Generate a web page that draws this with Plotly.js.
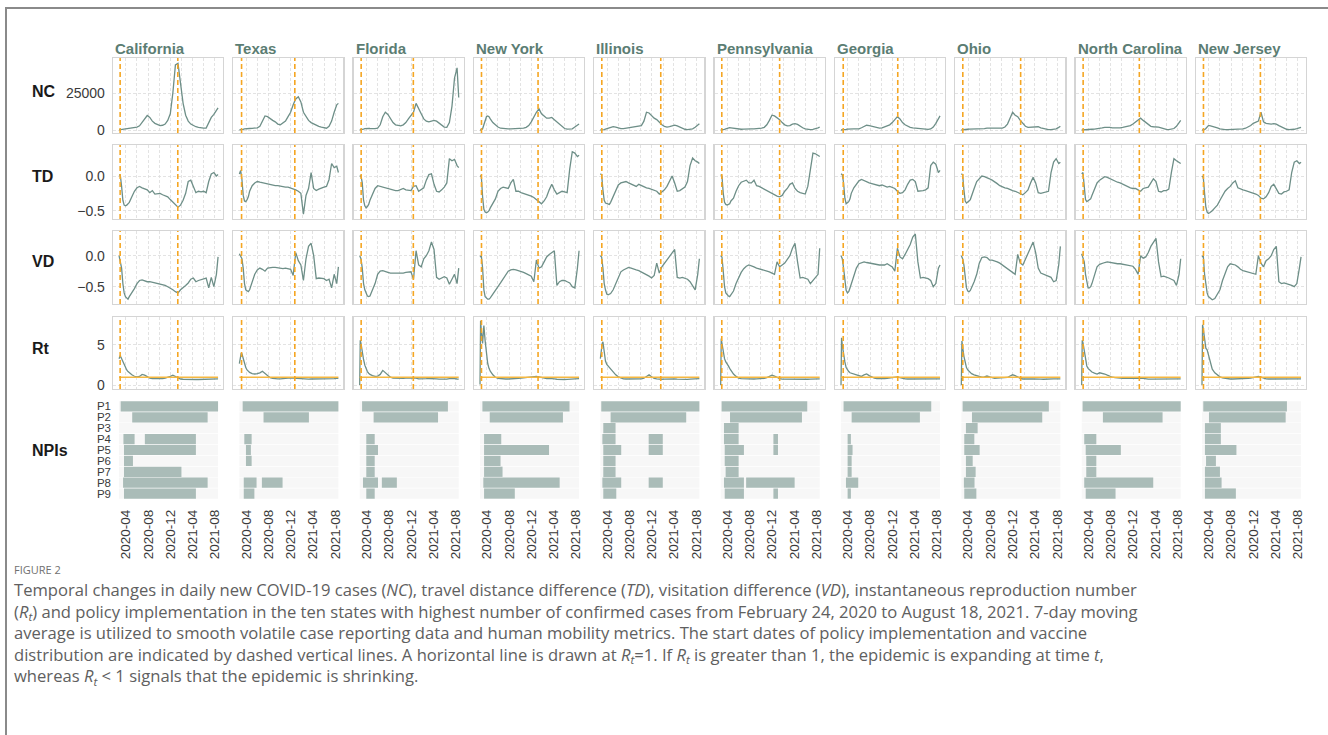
<!DOCTYPE html>
<html>
<head>
<meta charset="utf-8">
<script src="https://cdn.plot.ly/plotly-3.0.1.min.js"></script>
<style>
html,body{margin:0;padding:0;background:#fff}
#chart{width:1328px;height:735px}
</style>
</head>
<body>
<div id="chart"></div>
<script>
// ---------------- DATA ----------------
const states = ["California","Texas","Florida","New York","Illinois","Pennsylvania","Georgia","Ohio","North Carolina","New Jersey"];
const stateKeys = ["CA","TX","FL","NY","IL","PA","GA","OH","NCa","NJ"];
const studyStart = "2020-02-24";
const studyEnd = "2021-08-18";
const rtThreshold = 1;
const policies = ["P1","P2","P3","P4","P5","P6","P7","P8","P9"];
const xTickDates = ["2020-04-01","2020-08-01","2020-12-01","2021-04-01","2021-08-01"];
const gridMonths = ["2020-04-01","2020-06-01","2020-08-01","2020-10-01","2020-12-01","2021-02-01","2021-04-01","2021-06-01","2021-08-01"];

const dates = ["2020-02-24","2020-03-02","2020-03-09","2020-03-16","2020-03-23","2020-03-30","2020-04-06","2020-04-13","2020-04-20",
"2020-05-04","2020-05-18","2020-06-01","2020-06-15","2020-06-29","2020-07-13","2020-07-27","2020-08-10","2020-08-24","2020-09-07",
"2020-09-21","2020-10-05","2020-10-19","2020-11-02","2020-11-16","2020-11-30","2020-12-14","2020-12-28","2021-01-11","2021-01-25",
"2021-02-08","2021-02-22","2021-03-08","2021-03-22","2021-04-05","2021-04-19","2021-05-03","2021-05-17","2021-05-31","2021-06-14",
"2021-06-28","2021-07-12","2021-07-26","2021-08-09","2021-08-18"];
const rtDates = ["2020-02-24","2020-02-27","2020-03-02","2020-03-05","2020-03-09","2020-03-13","2020-03-16","2020-03-23","2020-03-30","2020-04-06","2020-04-13","2020-04-20",
"2020-05-04","2020-05-18","2020-06-01","2020-06-15","2020-06-29","2020-07-13","2020-07-27","2020-08-10","2020-08-24","2020-09-07",
"2020-09-21","2020-10-05","2020-10-19","2020-11-02","2020-11-16","2020-11-30","2020-12-14","2020-12-28","2021-01-11","2021-01-25",
"2021-02-08","2021-02-22","2021-03-08","2021-03-22","2021-04-05","2021-04-19","2021-05-03","2021-05-17","2021-05-31","2021-06-14",
"2021-06-28","2021-07-12","2021-07-26","2021-08-09","2021-08-18"];

// policy start / vaccine start (dashed lines)
const policyStart  = ["2020-03-01","2020-03-07","2020-03-03","2020-03-03","2020-03-03","2020-03-01","2020-03-07","2020-03-03","2020-03-03","2020-03-03"];
const vaccineStart = ["2021-01-10","2020-12-23","2020-12-13","2021-01-06","2021-01-19","2021-01-11","2020-12-30","2021-01-13","2021-01-04","2021-01-08"];

// NC: daily new cases (7-day avg)
const ncCA = [100,200,500,800,1000,1100,1200,1200,1200, 1300,1500,2000,2800,5000,8000,9800,8500,6000,4500, 3500,3000,3200,4000,6500,11000,25000,44000,45000,30000, 18000,10000,6000,4000,2800,2200,1800,1400,1200,1300, 4500,8500,10500,13000,15000];
const ncTX = [100,100,200,400,700,900,1000,1000,1000, 1100,1200,1500,2500,6000,9500,9000,7500,6500,5500, 4000,3500,4500,6000,9000,12000,17000,21000,22500,19000, 12000,9000,6500,5000,4000,3000,2500,2000,1500,1200, 2500,6000,12000,17000,18000];
const ncFL = [100,150,300,600,900,1100,1200,1100,1000, 800,900,1200,3500,9000,12000,10500,7500,5000,3500, 3000,2800,3500,5000,7500,9500,12000,18000,14000,11000, 7500,6000,5500,5800,6500,6000,4500,3000,2000,1800, 5000,16000,35000,42000,22000];
const ncNY = [0,100,800,3500,7000,9000,9500,9000,7500, 5000,3500,2000,1200,900,800,800,700,700,800, 900,1000,1200,1800,3000,5500,9000,12000,14300,11000, 9500,8000,8000,8500,7000,5500,3500,2000,1000,600, 500,800,2000,3500,4000];
const ncIL = [0,0,100,300,600,900,1300,1700,2000, 2300,2000,1300,900,900,1200,1500,1800,2000,2000, 2200,3000,6000,12000,11500,9500,8000,7000,5000,3500, 2500,2000,2300,3000,3300,2800,2000,1200,500,300, 400,800,1800,3500,4200];
const ncPA = [0,0,100,400,800,1200,1500,1600,1500, 1200,900,600,500,600,800,800,700,700,800, 900,1200,1800,3500,6500,10000,9500,8500,7000,5000, 3500,2800,3000,4000,4300,3800,2500,1500,800,400, 300,400,700,1500,1900];
const ncGA = [0,0,50,150,400,600,700,700,700, 700,700,800,1500,2500,3200,3000,2500,2000,1500, 1300,1500,2000,2500,3500,5000,7000,9000,7500,5000, 3500,2500,1800,1500,1300,1200,1000,600,400,400, 700,2000,4500,7500,9500];
const ncOH = [0,0,50,200,400,500,600,600,600, 600,500,400,500,900,1200,1200,1000,1000,1000, 1000,1300,2000,4000,8000,12000,10000,9000,6500,4500, 2500,1800,1800,2000,2300,2200,1500,1000,500,300, 300,400,800,1800,2500];
const ncNCa = [0,0,50,100,200,300,400,500,500, 600,700,1000,1400,1800,2000,1800,1500,1400,1400, 1500,1800,2200,2500,3000,4000,5500,6500,8000,6500, 5000,3500,2500,2200,2200,2000,1500,900,400,300, 500,1000,2500,5500,6500];
const ncNJ = [0,0,200,1000,2300,3000,3000,2800,2500, 2000,1500,800,400,300,300,300,300,300,400, 500,700,1200,2000,3000,4500,5500,6000,12000,5500, 4500,4000,4000,4300,4000,3000,2000,1000,500,300, 300,500,900,1500,1800];

// TD: travel distance difference
const tdCA = [0.02,0.01,-0.15,-0.35,-0.42,-0.43,-0.42,-0.40,-0.38, -0.30,-0.22,-0.17,-0.15,-0.17,-0.18,-0.20,-0.24,-0.21,-0.26, -0.25,-0.25,-0.27,-0.28,-0.30,-0.34,-0.38,-0.42,-0.45,-0.42, -0.35,-0.25,-0.08,-0.06,-0.15,-0.24,-0.22,-0.23,-0.22,-0.24, -0.08,0.03,0.05,0.0,0.02];
const tdTX = [0.03,0.08,-0.05,-0.28,-0.36,-0.37,-0.34,-0.30,-0.22, -0.14,-0.10,-0.08,-0.09,-0.10,-0.11,-0.12,-0.13,-0.13,-0.14, -0.14,-0.15,-0.16,-0.16,-0.16,-0.17,-0.19,-0.20,-0.22,-0.25, -0.55,-0.28,-0.18,0.05,-0.18,-0.21,-0.19,-0.17,-0.16,-0.15, -0.05,0.18,0.12,0.14,0.05];
const tdFL = [0.0,0.0,-0.1,-0.35,-0.43,-0.46,-0.44,-0.41,-0.35, -0.25,-0.18,-0.14,-0.15,-0.17,-0.18,-0.19,-0.2,-0.2,-0.21, -0.21,-0.2,-0.18,-0.2,-0.21,-0.21,-0.15,-0.14,-0.22,-0.2, -0.17,-0.06,0.02,0.03,-0.12,-0.22,-0.23,-0.2,-0.16,-0.1, 0.25,0.22,0.24,0.15,0.12];
const tdNY = [0.0,0.0,-0.3,-0.48,-0.52,-0.53,-0.52,-0.5,-0.46, -0.4,-0.33,-0.22,-0.18,-0.16,-0.17,-0.18,-0.1,-0.05,-0.22, -0.22,-0.24,-0.25,-0.26,-0.27,-0.29,-0.31,-0.34,-0.37,-0.4, -0.36,-0.3,-0.2,-0.12,-0.2,-0.26,-0.24,-0.22,-0.23,-0.24, 0.1,0.35,0.33,0.28,0.3];
const tdIL = [0.03,0.02,-0.2,-0.35,-0.39,-0.4,-0.41,-0.41,-0.38, -0.3,-0.2,-0.13,-0.1,-0.09,-0.08,-0.1,-0.12,-0.13,-0.15, -0.12,-0.14,-0.16,-0.17,-0.18,-0.19,-0.2,-0.22,-0.26,-0.23, -0.2,-0.15,-0.08,0.0,-0.1,-0.22,-0.21,-0.18,-0.16,-0.08, 0.15,0.26,0.22,0.2,0.18];
const tdPA = [0.02,0.0,-0.25,-0.38,-0.41,-0.42,-0.41,-0.4,-0.36, -0.32,-0.22,-0.14,-0.09,-0.07,-0.06,-0.1,-0.1,-0.06,-0.14, -0.15,-0.17,-0.2,-0.22,-0.24,-0.26,-0.27,-0.29,-0.3,-0.28, -0.22,-0.18,-0.12,-0.1,-0.18,-0.22,-0.24,-0.25,-0.26,-0.15, 0.1,0.33,0.32,0.3,0.28];
const tdGA = [0.03,0.02,-0.1,-0.32,-0.4,-0.39,-0.37,-0.33,-0.25, -0.17,-0.12,-0.07,-0.05,-0.07,-0.08,-0.1,-0.11,-0.12,-0.14, -0.14,-0.13,-0.14,-0.16,-0.15,-0.16,-0.18,-0.22,-0.25,-0.24, -0.2,-0.12,-0.06,-0.05,-0.08,-0.22,-0.22,-0.21,-0.2,-0.17, 0.15,0.2,0.17,0.05,0.08];
const tdOH = [0.03,0.02,-0.2,-0.36,-0.39,-0.38,-0.36,-0.34,-0.28, -0.18,-0.08,-0.04,0.0,-0.01,-0.02,-0.04,-0.06,-0.08,-0.11, -0.14,-0.16,-0.17,-0.18,-0.2,-0.21,-0.22,-0.24,-0.25,-0.27, -0.24,-0.2,-0.1,-0.02,-0.1,-0.24,-0.25,-0.24,-0.22,-0.22, 0.05,0.2,0.25,0.18,0.2];
const tdNCa = [0.03,0.05,-0.15,-0.34,-0.37,-0.36,-0.35,-0.33,-0.28, -0.2,-0.1,-0.06,-0.03,-0.01,-0.02,-0.04,-0.05,-0.07,-0.09, -0.1,-0.12,-0.14,-0.16,-0.17,-0.18,-0.18,-0.2,-0.22,-0.18, -0.17,-0.16,-0.1,-0.04,-0.08,-0.22,-0.23,-0.21,-0.21,-0.19, 0.05,0.25,0.22,0.2,0.18];
const tdNJ = [0.0,-0.02,-0.25,-0.45,-0.52,-0.54,-0.53,-0.52,-0.5, -0.46,-0.42,-0.35,-0.28,-0.22,-0.18,-0.15,-0.1,-0.07,-0.17, -0.19,-0.2,-0.21,-0.22,-0.23,-0.24,-0.26,-0.28,-0.32,-0.33, -0.3,-0.24,-0.15,-0.12,-0.18,-0.25,-0.26,-0.23,-0.22,-0.2, 0.05,0.2,0.22,0.18,0.2];

// VD: visitation difference
const vdCA = [0.0,-0.1,-0.2,-0.45,-0.6,-0.66,-0.69,-0.7,-0.66, -0.6,-0.53,-0.45,-0.4,-0.39,-0.41,-0.42,-0.42,-0.43,-0.44, -0.44,-0.46,-0.47,-0.48,-0.5,-0.52,-0.55,-0.58,-0.6,-0.55, -0.52,-0.48,-0.44,-0.38,-0.36,-0.42,-0.4,-0.39,-0.37,-0.36, -0.52,-0.35,-0.5,-0.3,-0.02];
const vdTX = [0.03,0.0,-0.05,-0.2,-0.45,-0.55,-0.57,-0.58,-0.55, -0.42,-0.3,-0.23,-0.2,-0.22,-0.25,-0.2,-0.19,-0.19,-0.19, -0.2,-0.21,-0.21,-0.2,-0.21,-0.22,-0.32,0.05,-0.08,-0.15, -0.4,-0.05,0.15,0.2,0.0,-0.37,-0.36,-0.37,-0.37,-0.4, -0.38,-0.52,-0.3,-0.45,-0.18];
const vdFL = [0.0,-0.05,-0.2,-0.45,-0.55,-0.6,-0.65,-0.66,-0.65, -0.55,-0.45,-0.3,-0.25,-0.24,-0.26,-0.27,-0.28,-0.28,-0.29, -0.29,-0.28,-0.28,-0.27,-0.26,-0.26,-0.38,0.08,-0.15,-0.18, -0.05,0.0,0.08,0.22,0.1,-0.35,-0.38,-0.36,-0.34,-0.36, -0.46,-0.38,-0.3,-0.45,-0.2];
const vdNY = [-0.02,0.0,-0.2,-0.55,-0.66,-0.68,-0.7,-0.7,-0.68, -0.62,-0.55,-0.5,-0.44,-0.37,-0.3,-0.25,-0.23,-0.22,-0.23, -0.24,-0.26,-0.27,-0.29,-0.31,-0.33,-0.42,-0.07,-0.2,-0.18, -0.1,-0.02,0.02,0.05,0.08,-0.48,-0.42,-0.4,-0.4,-0.42, -0.44,-0.5,-0.52,-0.2,0.08];
const vdIL = [0.0,-0.02,-0.2,-0.45,-0.55,-0.62,-0.63,-0.62,-0.61, -0.55,-0.45,-0.33,-0.26,-0.23,-0.21,-0.19,-0.2,-0.22,-0.23, -0.24,-0.26,-0.28,-0.3,-0.33,-0.36,-0.32,-0.12,-0.28,-0.18, -0.12,-0.08,-0.02,0.06,0.1,-0.35,-0.36,-0.35,-0.36,-0.38, -0.42,-0.48,-0.55,-0.3,-0.05];
const vdPA = [0.0,-0.02,-0.25,-0.5,-0.6,-0.63,-0.65,-0.66,-0.63, -0.57,-0.45,-0.35,-0.27,-0.21,-0.17,-0.15,-0.16,-0.18,-0.2, -0.21,-0.22,-0.23,-0.25,-0.26,-0.28,-0.3,-0.1,-0.18,-0.15, -0.12,-0.06,0.0,0.12,0.2,-0.1,-0.36,-0.35,-0.37,-0.38, -0.45,-0.4,-0.35,-0.3,0.12];
const vdGA = [0.0,-0.05,-0.2,-0.45,-0.56,-0.6,-0.58,-0.52,-0.45, -0.3,-0.2,-0.13,-0.11,-0.1,-0.11,-0.12,-0.13,-0.14,-0.15, -0.15,-0.15,-0.15,-0.13,-0.15,-0.18,-0.25,0.12,-0.02,-0.05, 0.02,0.1,0.18,0.3,0.35,-0.1,-0.36,-0.35,-0.36,-0.37, -0.4,-0.5,-0.45,-0.2,-0.15];
const vdOH = [0.0,-0.05,-0.15,-0.35,-0.52,-0.57,-0.58,-0.56,-0.52, -0.42,-0.3,-0.12,-0.03,-0.02,-0.03,-0.07,-0.07,-0.08,-0.1, -0.12,-0.15,-0.17,-0.2,-0.23,-0.27,-0.3,0.02,-0.12,-0.15, -0.05,0.05,0.15,0.22,0.05,-0.2,-0.28,-0.3,-0.31,-0.33, -0.35,-0.42,-0.4,-0.15,0.15];
const vdNCa = [0.03,-0.02,-0.1,-0.3,-0.45,-0.52,-0.52,-0.5,-0.45, -0.32,-0.18,-0.14,-0.12,-0.11,-0.1,-0.11,-0.12,-0.12,-0.13, -0.13,-0.14,-0.14,-0.15,-0.16,-0.17,-0.22,-0.3,0.0,-0.04, -0.02,0.05,0.15,0.22,0.28,-0.1,-0.34,-0.33,-0.34,-0.36, -0.38,-0.4,-0.48,-0.3,-0.05];
const vdNJ = [-0.02,0.0,-0.3,-0.5,-0.6,-0.66,-0.68,-0.7,-0.71, -0.69,-0.63,-0.55,-0.4,-0.28,-0.18,-0.13,-0.14,-0.15,-0.18, -0.22,-0.24,-0.25,-0.27,-0.28,-0.29,-0.3,0.0,-0.12,-0.18, -0.08,-0.05,0.0,0.1,0.15,-0.42,-0.45,-0.44,-0.45,-0.47, -0.48,-0.5,-0.45,-0.2,-0.02];

// Rt: instantaneous reproduction number (on rtDates)
const rtCA = [3.3,3.6,3.7,3.5,3.3,3.05,2.9,2.4,2.1,1.9,1.7,1.55, 1.3,1.12,1.05,1.1,1.35,1.25,1.05,0.9,0.82,0.8, 0.78,0.78,0.82,0.9,0.98,1.1,1.25,1.1,0.9,0.78, 0.75,0.73,0.72,0.72,0.72,0.72,0.72,0.72,0.72,0.73, 0.75,0.76,0.78,0.8,0.8];
const rtTX = [2.7,3.2,3.7,4.0,3.9,3.5,3.2,2.6,2.2,1.9,1.7,1.6, 1.45,1.4,1.45,1.55,1.75,1.5,1.2,0.95,0.85,0.8, 0.8,0.8,0.85,0.9,0.92,0.92,0.9,0.88,0.8,0.75, 0.75,0.75,0.76,0.78,0.78,0.77,0.75,0.74,0.74,0.75, 0.78,0.8,0.82,0.85,0.85];
const rtFL = [0.05,5.6,5.2,4.6,4.0,3.5,3.2,2.5,2.0,1.7,1.5,1.35, 1.2,1.1,1.15,1.35,1.85,1.55,1.2,1.0,0.9,0.87, 0.85,0.85,0.87,0.9,0.92,0.95,0.97,0.9,0.8,0.78, 0.8,0.82,0.84,0.85,0.83,0.8,0.76,0.74,0.74,0.76, 0.82,0.85,0.82,0.78,0.76];
const rtNY = [0.1,8.0,6.8,5.5,5.2,6.5,7.4,5.5,3.8,2.7,2.1,1.75, 1.3,1.0,0.85,0.8,0.78,0.78,0.78,0.78,0.8,0.82, 0.85,0.88,0.92,0.95,0.98,1.0,1.05,1.1,1.05,0.95, 0.88,0.82,0.85,0.86,0.8,0.75,0.72,0.72,0.72,0.74, 0.76,0.78,0.8,0.82,0.82];
const rtIL = [3.3,4.0,4.8,5.2,5.4,4.8,4.1,3.0,2.6,2.4,2.2,2.0, 1.6,1.3,1.05,0.88,0.8,0.78,0.78,0.78,0.78,0.78, 0.78,0.8,0.88,1.05,1.3,1.05,0.85,0.8,0.75,0.75, 0.76,0.78,0.8,0.82,0.8,0.76,0.74,0.73,0.73,0.74, 0.76,0.78,0.8,0.82,0.82];
const rtPA = [0.05,5.8,5.2,4.7,4.3,3.7,3.3,2.9,2.7,2.4,2.1,1.85, 1.4,1.1,0.9,0.82,0.8,0.78,0.78,0.78,0.78,0.8, 0.8,0.8,0.85,0.95,1.1,1.25,1.15,0.95,0.82,0.76, 0.75,0.76,0.78,0.8,0.8,0.78,0.75,0.74,0.74,0.75, 0.77,0.78,0.8,0.8,0.8];
const rtGA = [0.05,5.9,5.0,4.5,4.0,3.3,2.9,2.2,1.9,1.7,1.55,1.5, 1.35,1.3,1.15,1.1,1.3,1.4,1.2,1.0,0.9,0.82, 0.8,0.8,0.82,0.85,0.9,0.95,1.0,1.05,0.95,0.85, 0.8,0.78,0.78,0.78,0.78,0.76,0.74,0.73,0.73,0.74, 0.76,0.78,0.8,0.8,0.8];
const rtOH = [0.05,5.5,4.8,4.0,3.6,3.2,2.8,2.2,1.9,1.7,1.55,1.45, 1.3,1.2,1.1,1.0,1.05,1.15,1.05,0.9,0.85,0.88, 0.9,0.9,0.92,0.97,1.15,1.3,1.2,1.0,0.85,0.78, 0.76,0.76,0.78,0.8,0.82,0.8,0.77,0.75,0.74,0.75, 0.77,0.8,0.8,0.8,0.8];
const rtNCa = [0.05,5.6,5.3,4.8,4.3,3.5,3.0,2.4,2.1,1.9,1.75,1.65, 1.5,1.4,1.55,1.5,1.4,1.25,1.1,1.0,0.95,0.9, 0.88,0.86,0.85,0.86,0.88,0.9,0.92,0.92,0.9,0.85, 0.78,0.76,0.76,0.76,0.76,0.75,0.74,0.74,0.74,0.75, 0.77,0.8,0.8,0.8,0.8];
const rtNJ = [0.05,7.5,7.0,6.5,6.0,5.2,4.6,4.4,3.7,3.0,2.4,2.0, 1.55,1.25,1.05,0.92,0.85,0.8,0.78,0.78,0.78,0.78, 0.78,0.8,0.82,0.85,0.9,0.95,1.0,1.1,1.0,0.85, 0.8,0.78,0.78,0.8,0.8,0.78,0.76,0.75,0.74,0.75, 0.77,0.78,0.79,0.8,0.8];

// NPIs: [policy, start, end]
const npiCA = [["P1","2020-03-04","2021-08-18"],["P2","2020-05-06","2021-06-22"],["P4","2020-03-19","2020-05-19"],["P4","2020-07-14","2021-04-19"],["P5","2020-03-22","2021-04-19"],["P6","2020-03-22","2020-05-10"],["P7","2020-03-22","2021-01-30"],["P8","2020-03-17","2021-06-22"],["P9","2020-03-22","2021-04-19"]];
const npiTX = [["P1","2020-03-13","2021-08-18"],["P2","2020-07-05","2021-03-10"],["P4","2020-03-22","2020-05-01"],["P5","2020-03-31","2020-04-27"],["P6","2020-03-31","2020-05-01"],["P8","2020-03-19","2020-05-28"],["P8","2020-06-26","2020-10-17"],["P9","2020-03-19","2020-05-16"]];
const npiFL = [["P1","2020-03-08","2021-06-20"],["P2","2020-05-10","2021-04-27"],["P4","2020-03-31","2020-05-16"],["P5","2020-03-31","2020-06-03"],["P6","2020-03-31","2020-05-16"],["P7","2020-03-31","2020-05-16"],["P8","2020-03-13","2020-06-03"],["P8","2020-06-24","2020-09-14"],["P9","2020-03-31","2020-05-16"]];
const npiNY = [["P1","2020-03-08","2021-06-27"],["P2","2020-04-17","2021-05-22"],["P4","2020-03-17","2020-06-19"],["P5","2020-03-17","2021-03-07"],["P6","2020-03-17","2020-06-15"],["P7","2020-03-17","2020-06-26"],["P8","2020-03-13","2021-05-04"],["P9","2020-03-17","2020-09-01"]];
const npiIL = [["P1","2020-02-29","2021-08-18"],["P2","2020-04-20","2021-06-07"],["P3","2020-03-11","2020-05-17"],["P4","2020-03-06","2020-05-17"],["P4","2020-11-14","2021-01-30"],["P5","2020-03-11","2020-06-17"],["P5","2020-11-14","2021-01-30"],["P6","2020-03-11","2020-05-17"],["P7","2020-03-11","2020-05-17"],["P8","2020-03-06","2020-06-17"],["P8","2020-11-14","2021-01-30"],["P9","2020-03-11","2020-05-21"]];
const npiPA = [["P1","2020-02-29","2021-06-11"],["P2","2020-04-15","2021-05-13"],["P3","2020-03-13","2020-06-01"],["P4","2020-03-13","2020-06-01"],["P4","2020-12-08","2021-01-02"],["P5","2020-03-17","2020-06-30"],["P5","2020-12-08","2021-01-02"],["P6","2020-03-17","2020-06-01"],["P7","2020-03-22","2020-06-01"],["P8","2020-03-13","2020-06-30"],["P8","2020-07-12","2021-04-03"],["P9","2020-03-17","2020-06-30"],["P9","2020-12-08","2021-01-02"]];
const npiGA = [["P1","2020-03-09","2021-07-01"],["P2","2020-04-22","2021-04-30"],["P4","2020-03-31","2020-04-18"],["P5","2020-03-31","2020-04-27"],["P6","2020-03-31","2020-04-22"],["P7","2020-03-31","2020-04-22"],["P8","2020-03-22","2020-05-28"],["P9","2020-03-31","2020-04-18"]];
const npiOH = [["P1","2020-03-02","2021-06-16"],["P2","2020-04-22","2021-05-11"],["P3","2020-03-20","2020-05-23"],["P4","2020-03-11","2020-05-05"],["P5","2020-03-11","2020-06-03"],["P6","2020-03-20","2020-04-26"],["P7","2020-03-20","2020-05-12"],["P8","2020-03-09","2020-05-06"],["P9","2020-03-11","2020-05-16"]];
const npiNCa = [["P1","2020-02-29","2021-08-18"],["P2","2020-06-19","2021-05-11"],["P4","2020-03-09","2020-05-14"],["P5","2020-03-17","2020-09-25"],["P6","2020-03-20","2020-05-14"],["P7","2020-03-20","2020-05-14"],["P8","2020-03-09","2021-03-21"],["P9","2020-03-17","2020-08-27"]];
const npiNJ = [["P1","2020-03-02","2021-06-02"],["P2","2020-04-02","2021-05-26"],["P3","2020-03-11","2020-06-06"],["P4","2020-03-11","2020-06-06"],["P5","2020-03-11","2020-08-30"],["P6","2020-03-17","2020-05-10"],["P7","2020-03-11","2020-06-01"],["P8","2020-03-11","2020-06-10"],["P9","2020-03-11","2020-08-27"]];

const captionLines = [
 "Temporal changes in daily new COVID-19 cases (<i>NC</i>), travel distance difference (<i>TD</i>), visitation difference (<i>VD</i>), instantaneous reproduction number",
 "(<i>R<sub>t</sub></i>) and policy implementation in the ten states with highest number of confirmed cases from February 24, 2020 to August 18, 2021. 7-day moving",
 "average is utilized to smooth volatile case reporting data and human mobility metrics. The start dates of policy implementation and vaccine",
 "distribution are indicated by dashed vertical lines. A horizontal line is drawn at <i>R<sub>t</sub></i>=1. If <i>R<sub>t</sub></i> is greater than 1, the epidemic is expanding at time <i>t</i>,",
 "whereas <i>R<sub>t</sub></i> &lt; 1 signals that the epidemic is shrinking."
];

// ---------------- BUILD ----------------
const seriesTable = {
  nc: {CA:ncCA,TX:ncTX,FL:ncFL,NY:ncNY,IL:ncIL,PA:ncPA,GA:ncGA,OH:ncOH,NCa:ncNCa,NJ:ncNJ},
  td: {CA:tdCA,TX:tdTX,FL:tdFL,NY:tdNY,IL:tdIL,PA:tdPA,GA:tdGA,OH:tdOH,NCa:tdNCa,NJ:tdNJ},
  vd: {CA:vdCA,TX:vdTX,FL:vdFL,NY:vdNY,IL:vdIL,PA:vdPA,GA:vdGA,OH:vdOH,NCa:vdNCa,NJ:vdNJ},
  rt: {CA:rtCA,TX:rtTX,FL:rtFL,NY:rtNY,IL:rtIL,PA:rtPA,GA:rtGA,OH:rtOH,NCa:rtNCa,NJ:rtNJ}
};
const npiTable = {CA:npiCA,TX:npiTX,FL:npiFL,NY:npiNY,IL:npiIL,PA:npiPA,GA:npiGA,OH:npiOH,NCa:npiNCa,NJ:npiNJ};

const W = 1328, H = 735;
const fx = p => p / W, fy = p => 1 - p / H;
const colLeft = c => 113 + c * 120.33;
const PW = 110;
const xRange = ["2020-01-22", "2021-09-14"];
const LINE = "#6e8f88", ORANGE = "#f5a623", TITLE = "#5b7d73";
const FONT = "Liberation Sans, Arial, Helvetica, sans-serif";
const CAPFONT = "Open Sans, Noto Sans, sans-serif";

const rows = [
  {key:"nc", top:58,  bot:133, range:[-2030,48650], ticks:[0,25000], fmt:"d",   label:"NC", ly:92},
  {key:"td", top:145, bot:219, range:[-0.62,0.447], ticks:[-0.5,0],  fmt:".1f", label:"TD", ly:176},
  {key:"vd", top:231, bot:304, range:[-0.779,0.398],ticks:[-0.5,0],  fmt:".1f", label:"VD", ly:261},
  {key:"rt", top:317, bot:389, range:[-0.46,8.47],  ticks:[0,5],     fmt:"d",   label:"Rt", ly:348}
];
const npiTop = 401, npiBot = 499;

const traces = [], shapes = [], annotations = [];
const layout = {
  width: W, height: H, margin: {l:0,r:0,t:0,b:0},
  paper_bgcolor: "#ffffff", plot_bgcolor: "#ffffff",
  showlegend: false, barmode: "overlay", bargap: 0.06, hovermode: false,
  font: {family: FONT, color: "#333"}
};
const ms = d => Date.parse(d + "T00:00:00Z");
const axId = k => k === 1 ? "" : String(k);

// frame
shapes.push({type:"rect", xref:"paper", yref:"paper", x0: fx(6), x1: fx(1345), y0: fy(750), y1: fy(8),
  line:{color:"#8a8a8a", width:2}, fillcolor:"rgba(0,0,0,0)"});

states.forEach((st, c) => {
  const sk = stateKeys[c];
  const x0 = fx(colLeft(c)), x1 = fx(colLeft(c) + PW);
  rows.forEach((row, r) => {
    const k = r * 10 + c + 1, id = axId(k);
    layout["xaxis" + id] = {
      domain: [x0, x1], range: xRange, type: "date", anchor: "y" + id,
      tickvals: gridMonths, showticklabels: false, ticks: "",
      showgrid: true, gridcolor: "#dcdcdc", gridwidth: 0.8, griddash: "3px,2px",
      showline: true, mirror: true, linecolor: "#d5d5d5", linewidth: 1.3, zeroline: false, fixedrange: true
    };
    layout["yaxis" + id] = {
      domain: [fy(row.bot), fy(row.top)], range: row.range, anchor: "x" + id,
      tickvals: row.ticks, tickformat: row.fmt, showticklabels: c === 0, ticks: "",
      ticklabelstandoff: 4,
      tickfont: {family: FONT, size: 14, color: "#3a3a3a"},
      showgrid: true, gridcolor: "#dcdcdc", gridwidth: 0.8, griddash: "3px,2px",
      showline: true, mirror: true, linecolor: "#d5d5d5", linewidth: 1.3, zeroline: false, fixedrange: true
    };
    if (row.key === "rt") {
      shapes.push({type:"line", xref:"x"+id, yref:"y"+id, x0:studyStart, x1:studyEnd, y0:rtThreshold, y1:rtThreshold,
        line:{color:"#f6b840", width:1.5}});
    }
    [policyStart[c], vaccineStart[c]].forEach(d => {
      shapes.push({type:"line", xref:"x"+id, yref:"y"+id+" domain", x0:d, x1:d, y0:0, y1:1,
        line:{color:ORANGE, width:1.6, dash:"5px,3px"}});
    });
    traces.push({
      type: "scatter", mode: "lines", x: row.key === "rt" ? rtDates : dates, y: seriesTable[row.key][sk],
      xaxis: "x" + id, yaxis: "y" + id, line: {color: LINE, width: 1.3}, hoverinfo: "skip"
    });
  });
  // NPI panel
  const k = 40 + c + 1, id = axId(k);
  layout["xaxis" + id] = {
    domain: [x0, x1], range: xRange, type: "date", anchor: "y" + id,
    tickvals: xTickDates, tickformat: "%Y-%m", tickangle: -90, ticks: "",
    ticklabelstandoff: 7,
    tickfont: {family: FONT, size: 13.5, color: "#3a3a3a"},
    showgrid: false, showline: false, zeroline: false, fixedrange: true
  };
  layout["yaxis" + id] = {
    domain: [fy(npiBot), fy(npiTop)], type: "category", anchor: "x" + id,
    categoryorder: "array", categoryarray: policies.slice().reverse(), range: [-0.5, 8.5],
    tickmode: "array", tickvals: policies, ticktext: policies,
    showticklabels: c === 0, ticks: "", ticklabelstandoff: 1,
    tickfont: {family: FONT, size: 11.5, color: "#3a3a3a"},
    showgrid: false, showline: false, zeroline: false, fixedrange: true
  };
  traces.push({
    type: "bar", orientation: "h", xaxis: "x" + id, yaxis: "y" + id,
    y: policies, base: policies.map(() => studyStart), x: policies.map(() => ms(studyEnd) - ms(studyStart)),
    marker: {color: "#f7f7f7", line: {width: 0}}, hoverinfo: "skip"
  });
  const segs = npiTable[sk];
  traces.push({
    type: "bar", orientation: "h", xaxis: "x" + id, yaxis: "y" + id,
    y: segs.map(s => s[0]), base: segs.map(s => s[1]), x: segs.map(s => ms(s[2]) - ms(s[1])),
    marker: {color: "#aabcb8", line: {width: 0}}, hoverinfo: "skip"
  });
  annotations.push({xref:"paper", yref:"paper", x: x0, y: fy(48), xanchor:"left", yanchor:"middle", showarrow:false,
    text: "<b>" + st + "</b>", font:{family: FONT, size: 15, color: TITLE}});
});

// row labels
rows.forEach(row => annotations.push({xref:"paper", yref:"paper", x: fx(30), y: fy(row.ly), xanchor:"left", yanchor:"middle",
  showarrow:false, text:"<b>" + row.label + "</b>", font:{family: FONT, size: 16, color:"#1a1a1a"}}));
annotations.push({xref:"paper", yref:"paper", x: fx(30), y: fy(450), xanchor:"left", yanchor:"middle",
  showarrow:false, text:"<b>NPIs</b>", font:{family: FONT, size: 16, color:"#1a1a1a"}});

// caption: one block, line spacing = 1.3 x font size
annotations.push({xref:"paper", yref:"paper", x: fx(13), y: fy(569.5), xanchor:"left", yanchor:"middle", showarrow:false,
  borderpad:0, text:"FIGURE 2", font:{family: CAPFONT, size: 11, color:"#707070"}});
annotations.push({xref:"paper", yref:"paper", x: fx(13), y: fy(633.2), xanchor:"left", yanchor:"middle", align:"left",
  showarrow:false, borderpad:0, text: captionLines.join("<br>"), font:{family: CAPFONT, size: 16.6, color:"#606060"}});

layout.shapes = shapes;
layout.annotations = annotations;

Plotly.newPlot("chart", traces, layout, {staticPlot: true, displayModeBar: false});
</script>
</body>
</html>
